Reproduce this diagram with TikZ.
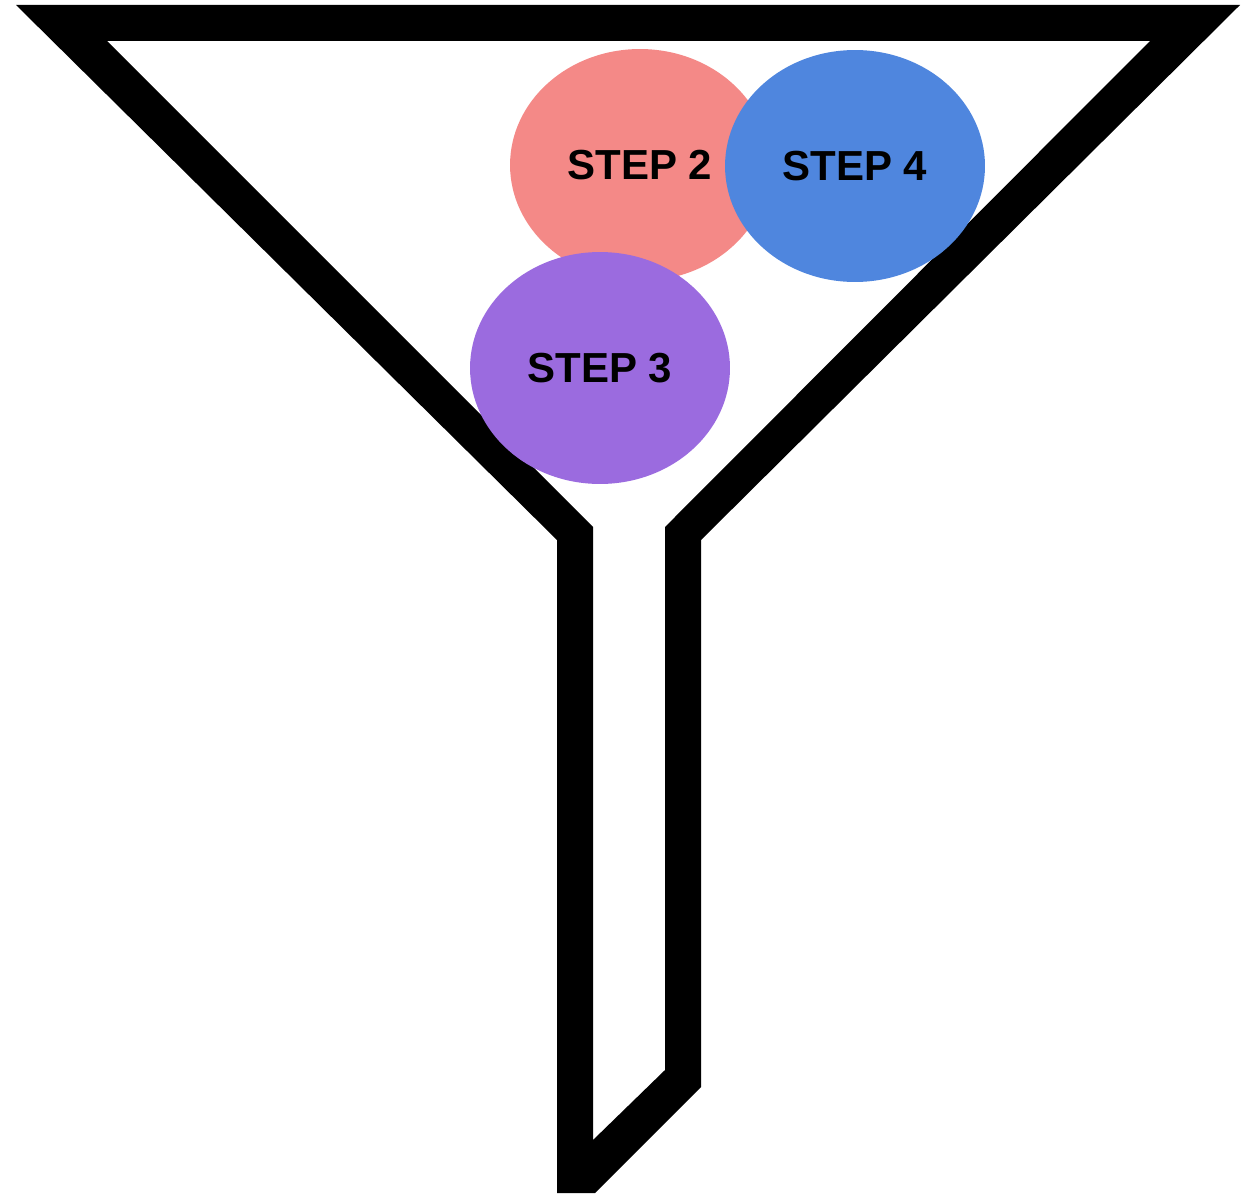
\documentclass[tikz,border=0pt]{standalone}
\usepackage{fontspec}
\setmainfont{Liberation Sans}
\usetikzlibrary{shapes.geometric}

\definecolor{stepred}{RGB}{244,137,135}
\definecolor{stepblue}{RGB}{79,134,222}
\definecolor{steppurple}{RGB}{155,107,223}

\tikzset{
  stepblob/.style={ellipse, inner sep=0pt, minimum width=5.2cm, minimum height=4.64cm,
                   font=\fontsize{23.9}{28}\selectfont\bfseries, text=black}
}

\begin{document}
\begin{tikzpicture}[x={(0.02cm,0cm)}, y={(0cm,-0.02cm)}, line join=miter]
    \useasboundingbox (0,0) rectangle (1256,1193);

    % Funnel: outer outline minus inner hole
    \fill[black, even odd rule]
      (16,5) -- (1240,5) -- (701,540) -- (701,1087) -- (595,1193) -- (557,1193)
        -- (557,540) -- cycle
      (107,41) -- (1150,41) -- (665,527) -- (665,1070) -- (593,1140)
        -- (593,527) -- cycle;

    % Steps dropped into the funnel
    \foreach \nm/\cx/\cy/\fc/\lbl in {
        two/640/165/stepred/STEP 2,
        four/855/166/stepblue/STEP 4,
        three/600/368/steppurple/STEP 3}{
      \node[stepblob, fill=\fc] (step\nm) at (\cx,\cy) {\lbl};
    }
  \end{tikzpicture}
\end{document}
